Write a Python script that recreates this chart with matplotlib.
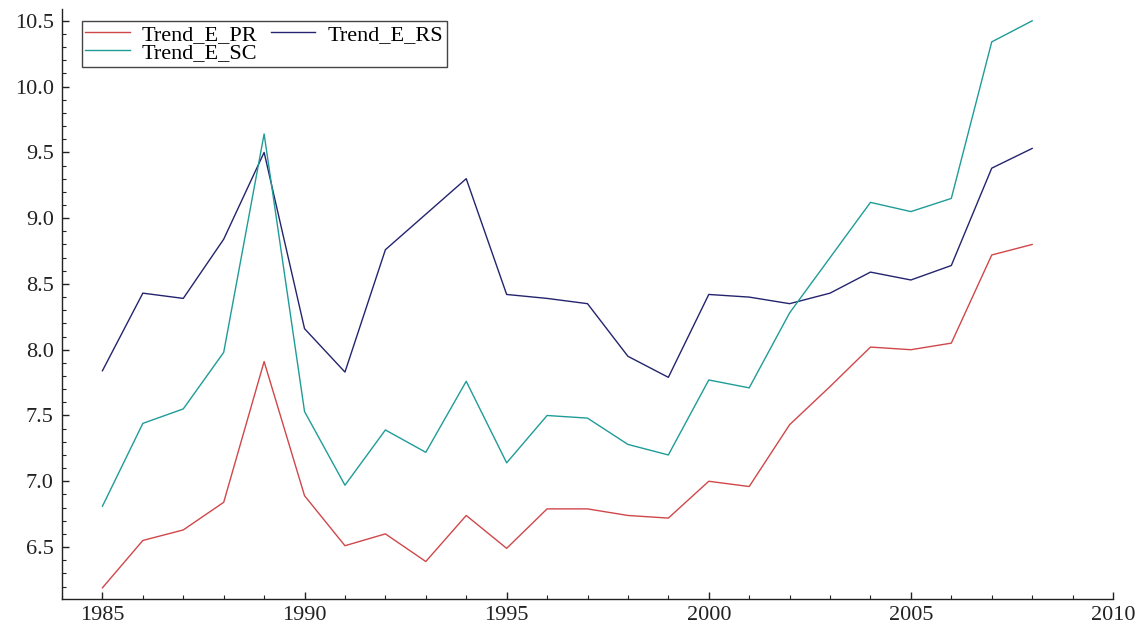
import matplotlib
matplotlib.use("Agg")
import matplotlib.pyplot as plt
from matplotlib.ticker import MultipleLocator

# data
years = list(range(1985, 2009))
trend_e_pr = [6.19, 6.55, 6.63, 6.84, 7.91, 6.89, 6.51, 6.60, 6.39, 6.74, 6.49, 6.79,
              6.79, 6.74, 6.72, 7.00, 6.96, 7.43, 7.72, 8.02, 8.00, 8.05, 8.72, 8.80]
trend_e_rs = [7.84, 8.43, 8.39, 8.84, 9.50, 8.16, 7.83, 8.76, 9.03, 9.30, 8.42, 8.39,
              8.35, 7.95, 7.79, 8.42, 8.40, 8.35, 8.43, 8.59, 8.53, 8.64, 9.38, 9.53]
trend_e_sc = [6.81, 7.44, 7.55, 7.98, 9.64, 7.53, 6.97, 7.39, 7.22, 7.76, 7.14, 7.50,
              7.48, 7.28, 7.20, 7.77, 7.71, 8.28, 8.70, 9.12, 9.05, 9.15, 10.34, 10.50]

plt.rcParams['font.family'] = ['Liberation Serif', 'DejaVu Serif']

fig = plt.figure(figsize=(11.45, 6.28), dpi=100)
ax = fig.add_axes([62 / 1145, 29 / 628, (1113 - 62) / 1145, (599 - 9) / 628])

l_pr, = ax.plot(years, trend_e_pr, color='#d0474a', linewidth=1.0, label='Trend_E_PR')
l_rs, = ax.plot(years, trend_e_rs, color='#24246e', linewidth=1.0, label='Trend_E_RS')
l_sc, = ax.plot(years, trend_e_sc, color='#1f9c98', linewidth=1.0, label='Trend_E_SC')

ax.set_xlim(1984, 2010)
ax.set_ylim(6.105, 10.59)
ax.xaxis.set_major_locator(MultipleLocator(5))
ax.xaxis.set_minor_locator(MultipleLocator(1))
ax.yaxis.set_major_locator(MultipleLocator(0.5))
ax.yaxis.set_minor_locator(MultipleLocator(0.1))
ax.yaxis.set_major_formatter(plt.FormatStrFormatter('%.1f'))

for side in ['top', 'right']:
    ax.spines[side].set_visible(False)
for side in ['left', 'bottom']:
    ax.spines[side].set_linewidth(1.0)
    ax.spines[side].set_color('#222222')

ax.tick_params(which='major', direction='in', length=5, width=1.0, labelsize=16, colors='#222222')
ax.tick_params(axis='y', which='major', pad=6)
ax.tick_params(axis='x', which='major', pad=5)
ax.tick_params(which='minor', direction='in', length=3, width=0.8, colors='#222222')

# column-wise fill: PR, SC in first column, RS in second
leg = ax.legend([l_pr, l_sc, l_rs], ['Trend_E_PR', 'Trend_E_SC', 'Trend_E_RS'],
                ncol=2, loc='upper left', bbox_to_anchor=(82 / 1145, 1 - 21 / 628),
                bbox_transform=fig.transFigure, borderaxespad=0, fontsize=16,
                frameon=True, fancybox=False, framealpha=1, edgecolor='#444444',
                labelspacing=-0.1, borderpad=0.15, handlelength=2.0, handletextpad=0.55,
                columnspacing=0.6)
leg.get_frame().set_linewidth(1.0)

fig.savefig('out.png', dpi=100)
